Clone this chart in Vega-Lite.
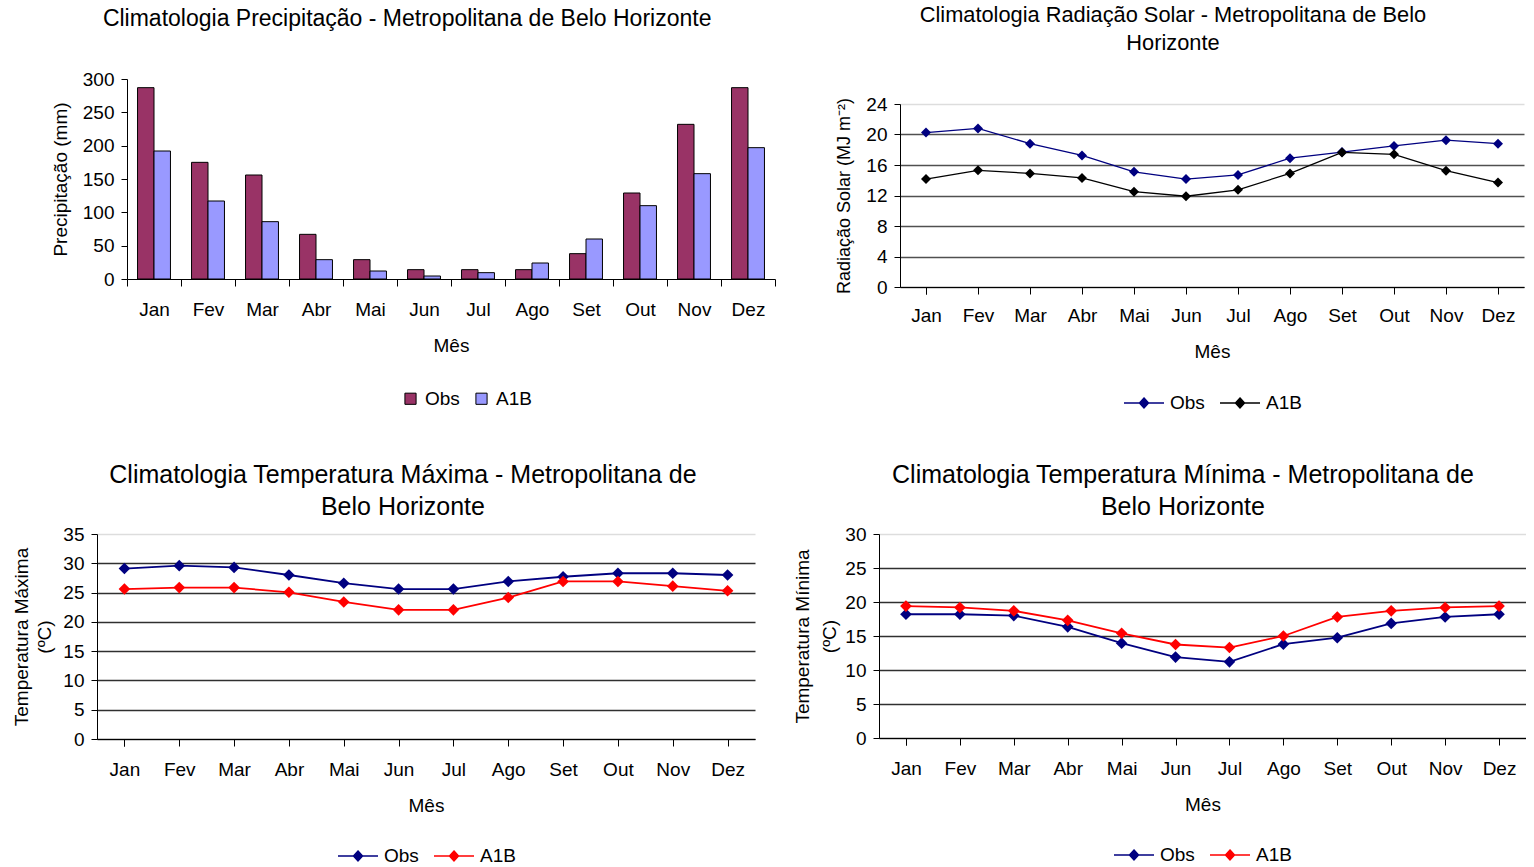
{
  "$schema": "https://vega.github.io/schema/vega-lite/v6.json",
  "background": "white",
  "padding": {"left": 12, "top": 5, "right": 0, "bottom": 0},
  "datasets": {
    "prec": [
      {"mes": "Jan", "serie": "Obs", "valor": 287}, {"mes": "Jan", "serie": "A1B", "valor": 192},
      {"mes": "Fev", "serie": "Obs", "valor": 175}, {"mes": "Fev", "serie": "A1B", "valor": 117},
      {"mes": "Mar", "serie": "Obs", "valor": 156}, {"mes": "Mar", "serie": "A1B", "valor": 86},
      {"mes": "Abr", "serie": "Obs", "valor": 67}, {"mes": "Abr", "serie": "A1B", "valor": 29},
      {"mes": "Mai", "serie": "Obs", "valor": 29}, {"mes": "Mai", "serie": "A1B", "valor": 12},
      {"mes": "Jun", "serie": "Obs", "valor": 14}, {"mes": "Jun", "serie": "A1B", "valor": 4.5},
      {"mes": "Jul", "serie": "Obs", "valor": 14}, {"mes": "Jul", "serie": "A1B", "valor": 9.5},
      {"mes": "Ago", "serie": "Obs", "valor": 14}, {"mes": "Ago", "serie": "A1B", "valor": 24},
      {"mes": "Set", "serie": "Obs", "valor": 38}, {"mes": "Set", "serie": "A1B", "valor": 60},
      {"mes": "Out", "serie": "Obs", "valor": 129}, {"mes": "Out", "serie": "A1B", "valor": 110},
      {"mes": "Nov", "serie": "Obs", "valor": 232}, {"mes": "Nov", "serie": "A1B", "valor": 158},
      {"mes": "Dez", "serie": "Obs", "valor": 287}, {"mes": "Dez", "serie": "A1B", "valor": 197}
    ],
    "rad": [
      {"mes": "Jan", "serie": "Obs", "valor": 20.25}, {"mes": "Jan", "serie": "A1B", "valor": 14.15},
      {"mes": "Fev", "serie": "Obs", "valor": 20.8}, {"mes": "Fev", "serie": "A1B", "valor": 15.3},
      {"mes": "Mar", "serie": "Obs", "valor": 18.8}, {"mes": "Mar", "serie": "A1B", "valor": 14.9},
      {"mes": "Abr", "serie": "Obs", "valor": 17.25}, {"mes": "Abr", "serie": "A1B", "valor": 14.3},
      {"mes": "Mai", "serie": "Obs", "valor": 15.1}, {"mes": "Mai", "serie": "A1B", "valor": 12.5},
      {"mes": "Jun", "serie": "Obs", "valor": 14.15}, {"mes": "Jun", "serie": "A1B", "valor": 11.9},
      {"mes": "Jul", "serie": "Obs", "valor": 14.7}, {"mes": "Jul", "serie": "A1B", "valor": 12.75},
      {"mes": "Ago", "serie": "Obs", "valor": 16.9}, {"mes": "Ago", "serie": "A1B", "valor": 14.9},
      {"mes": "Set", "serie": "Obs", "valor": 17.7}, {"mes": "Set", "serie": "A1B", "valor": 17.65},
      {"mes": "Out", "serie": "Obs", "valor": 18.5}, {"mes": "Out", "serie": "A1B", "valor": 17.4},
      {"mes": "Nov", "serie": "Obs", "valor": 19.25}, {"mes": "Nov", "serie": "A1B", "valor": 15.25},
      {"mes": "Dez", "serie": "Obs", "valor": 18.8}, {"mes": "Dez", "serie": "A1B", "valor": 13.7}
    ],
    "tmax": [
      {"mes": "Jan", "serie": "Obs", "valor": 29.1}, {"mes": "Jan", "serie": "A1B", "valor": 25.6},
      {"mes": "Fev", "serie": "Obs", "valor": 29.6}, {"mes": "Fev", "serie": "A1B", "valor": 25.85},
      {"mes": "Mar", "serie": "Obs", "valor": 29.3}, {"mes": "Mar", "serie": "A1B", "valor": 25.85},
      {"mes": "Abr", "serie": "Obs", "valor": 28.0}, {"mes": "Abr", "serie": "A1B", "valor": 25.05},
      {"mes": "Mai", "serie": "Obs", "valor": 26.6}, {"mes": "Mai", "serie": "A1B", "valor": 23.4},
      {"mes": "Jun", "serie": "Obs", "valor": 25.6}, {"mes": "Jun", "serie": "A1B", "valor": 22.05},
      {"mes": "Jul", "serie": "Obs", "valor": 25.6}, {"mes": "Jul", "serie": "A1B", "valor": 22.05},
      {"mes": "Ago", "serie": "Obs", "valor": 26.9}, {"mes": "Ago", "serie": "A1B", "valor": 24.15},
      {"mes": "Set", "serie": "Obs", "valor": 27.7}, {"mes": "Set", "serie": "A1B", "valor": 26.9},
      {"mes": "Out", "serie": "Obs", "valor": 28.3}, {"mes": "Out", "serie": "A1B", "valor": 26.9},
      {"mes": "Nov", "serie": "Obs", "valor": 28.3}, {"mes": "Nov", "serie": "A1B", "valor": 26.1},
      {"mes": "Dez", "serie": "Obs", "valor": 28.0}, {"mes": "Dez", "serie": "A1B", "valor": 25.3}
    ],
    "tmin": [
      {"mes": "Jan", "serie": "Obs", "valor": 18.2}, {"mes": "Jan", "serie": "A1B", "valor": 19.4},
      {"mes": "Fev", "serie": "Obs", "valor": 18.2}, {"mes": "Fev", "serie": "A1B", "valor": 19.2},
      {"mes": "Mar", "serie": "Obs", "valor": 18.0}, {"mes": "Mar", "serie": "A1B", "valor": 18.7},
      {"mes": "Abr", "serie": "Obs", "valor": 16.35}, {"mes": "Abr", "serie": "A1B", "valor": 17.3},
      {"mes": "Mai", "serie": "Obs", "valor": 13.95}, {"mes": "Mai", "serie": "A1B", "valor": 15.4},
      {"mes": "Jun", "serie": "Obs", "valor": 11.9}, {"mes": "Jun", "serie": "A1B", "valor": 13.75},
      {"mes": "Jul", "serie": "Obs", "valor": 11.2}, {"mes": "Jul", "serie": "A1B", "valor": 13.3},
      {"mes": "Ago", "serie": "Obs", "valor": 13.8}, {"mes": "Ago", "serie": "A1B", "valor": 15.0},
      {"mes": "Set", "serie": "Obs", "valor": 14.75}, {"mes": "Set", "serie": "A1B", "valor": 17.8},
      {"mes": "Out", "serie": "Obs", "valor": 16.85}, {"mes": "Out", "serie": "A1B", "valor": 18.7},
      {"mes": "Nov", "serie": "Obs", "valor": 17.8}, {"mes": "Nov", "serie": "A1B", "valor": 19.2},
      {"mes": "Dez", "serie": "Obs", "valor": 18.2}, {"mes": "Dez", "serie": "A1B", "valor": 19.4}
    ]
  },
  "spacing": 50,
  "align": "none",
  "resolve": {"scale": {"color": "independent"}, "legend": {"color": "independent"}},
  "vconcat": [
    {
      "spacing": 0,
      "align": "none",
      "resolve": {"scale": {"color": "independent"}, "legend": {"color": "independent"}},
      "hconcat": [
        {
          "data": {"name": "prec"},
          "width": 738,
          "height": 200,
          "title": {"text": "Climatologia Precipitação - Metropolitana de Belo Horizonte", "fontSize": 23, "frame": "bounds", "offset": 39, "dx": -36},
          "mark": {"type": "bar", "stroke": "black", "strokeWidth": 1},
          "encoding": {
            "x": {"field": "mes", "type": "nominal", "sort": ["Jan", "Fev", "Mar", "Abr", "Mai", "Jun", "Jul", "Ago", "Set", "Out", "Nov", "Dez"], "title": "Mês", "scale": {"paddingInner": 0, "paddingOuter": 0, "range": [30, 678]}, "axis": {"labelPadding": 14}},
            "xOffset": {"field": "serie", "type": "nominal", "sort": ["Obs", "A1B"], "scale": {"paddingInner": 0, "paddingOuter": 0.64}},
            "y": {"field": "valor", "type": "quantitative", "title": "Precipitação (mm)", "scale": {"domain": [0, 300], "nice": false}, "axis": {"values": [0, 50, 100, 150, 200, 250, 300], "grid": false, "titlePadding": 12, "offset": -30}},
            "color": {"field": "serie", "type": "nominal", "sort": ["Obs", "A1B"], "scale": {"domain": ["Obs", "A1B"], "range": ["#993366", "#9999FF"]}, "legend": {"title": null, "orient": "bottom", "direction": "horizontal", "offset": 34, "symbolType": "square", "symbolSize": 125, "symbolStrokeColor": "black", "symbolStrokeWidth": 1, "symbolOpacity": 1, "symbolFillColor": null}}
          }
        },
        {
          "data": {"name": "rad"},
          "width": 624,
          "height": 208,
          "title": {"text": ["Climatologia Radiação Solar - Metropolitana de Belo", "Horizonte"], "fontSize": 21.8, "lineHeight": 28, "frame": "bounds", "offset": 24, "dx": -7},
          "mark": {"type": "line", "strokeWidth": 1.3, "point": {"shape": "diamond", "filled": true, "size": 100}},
          "encoding": {
            "x": {"field": "mes", "type": "nominal", "sort": ["Jan", "Fev", "Mar", "Abr", "Mai", "Jun", "Jul", "Ago", "Set", "Out", "Nov", "Dez"], "title": "Mês", "scale": {"paddingInner": 0, "paddingOuter": 0}},
            "y": {"field": "valor", "type": "quantitative", "title": "Radiação Solar (MJ m⁻²)", "scale": {"domain": [0, 24], "nice": false, "range": [208, 25]}, "axis": {"values": [0, 4, 8, 12, 16, 20, 24], "titleFontSize": 18, "titlePadding": 12, "gridColor": {"condition": {"test": "datum.value == 24", "value": "#dddddd"}, "value": "#505050"}}},
            "color": {"field": "serie", "type": "nominal", "sort": ["Obs", "A1B"], "scale": {"domain": ["Obs", "A1B"], "range": ["#000080", "#000000"]}, "legend": {"title": null, "orient": "bottom", "direction": "horizontal", "offset": 21, "encode": {"symbols": {"update": {"fill": {"signal": "datum.value === 'Obs' ? '#000080' : '#000000'"}}}}}}
          }
        }
      ]
    },
    {
      "spacing": 38,
      "align": "none",
      "resolve": {"scale": {"color": "independent"}, "legend": {"color": "independent"}},
      "hconcat": [
        {
          "data": {"name": "tmax"},
          "width": 658,
          "height": 205,
          "title": {"text": ["Climatologia Temperatura Máxima - Metropolitana de", "Belo Horizonte"], "fontSize": 25, "lineHeight": 32, "frame": "bounds", "offset": 5, "dx": 19},
          "mark": {"type": "line", "strokeWidth": 1.8, "point": {"shape": "diamond", "filled": true, "size": 135}},
          "encoding": {
            "x": {"field": "mes", "type": "nominal", "sort": ["Jan", "Fev", "Mar", "Abr", "Mai", "Jun", "Jul", "Ago", "Set", "Out", "Nov", "Dez"], "title": "Mês", "scale": {"paddingInner": 0, "paddingOuter": 0}, "axis": {"labelPadding": 14}},
            "y": {"field": "valor", "type": "quantitative", "title": ["Temperatura Máxima", "(ºC)"], "scale": {"domain": [0, 35], "nice": false}, "axis": {"values": [0, 5, 10, 15, 20, 25, 30, 35], "titlePadding": 8, "titleLineHeight": 23, "gridColor": {"condition": {"test": "datum.value == 35", "value": "#dddddd"}, "value": "#303030"}}},
            "color": {"field": "serie", "type": "nominal", "sort": ["Obs", "A1B"], "scale": {"domain": ["Obs", "A1B"], "range": ["#000080", "#FF0000"]}, "legend": {"title": null, "orient": "bottom", "direction": "horizontal", "offset": 20, "encode": {"symbols": {"update": {"fill": {"signal": "datum.value === 'Obs' ? '#000080' : '#FF0000'"}}}}}}
          }
        },
        {
          "data": {"name": "tmin"},
          "width": 647,
          "height": 204,
          "title": {"text": ["Climatologia Temperatura Mínima - Metropolitana de", "Belo Horizonte"], "fontSize": 25, "lineHeight": 32, "frame": "bounds", "offset": 5, "dx": 23},
          "mark": {"type": "line", "strokeWidth": 1.8, "point": {"shape": "diamond", "filled": true, "size": 135}},
          "encoding": {
            "x": {"field": "mes", "type": "nominal", "sort": ["Jan", "Fev", "Mar", "Abr", "Mai", "Jun", "Jul", "Ago", "Set", "Out", "Nov", "Dez"], "title": "Mês", "scale": {"paddingInner": 0, "paddingOuter": 0}, "axis": {"labelPadding": 14}},
            "y": {"field": "valor", "type": "quantitative", "title": ["Temperatura Mínima", "(ºC)"], "scale": {"domain": [0, 30], "nice": false}, "axis": {"values": [0, 5, 10, 15, 20, 25, 30], "titlePadding": 5, "titleLineHeight": 27, "gridColor": {"condition": {"test": "datum.value == 30", "value": "#dddddd"}, "value": "#303030"}}},
            "color": {"field": "serie", "type": "nominal", "sort": ["Obs", "A1B"], "scale": {"domain": ["Obs", "A1B"], "range": ["#000080", "#FF0000"]}, "legend": {"title": null, "orient": "bottom", "direction": "horizontal", "offset": 20, "encode": {"symbols": {"update": {"fill": {"signal": "datum.value === 'Obs' ? '#000080' : '#FF0000'"}}}}}}
          }
        }
      ]
    }
  ],
  "config": {
    "font": "Liberation Sans",
    "view": {"stroke": null},
    "title": {"color": "black", "fontWeight": "normal", "anchor": "middle", "font": "Liberation Sans"},
    "axis": {"domainColor": "black", "tickColor": "black", "labelColor": "black", "titleColor": "black", "labelFontSize": 19, "titleFontSize": 19, "titleFontWeight": "normal", "labelFont": "Liberation Sans", "titleFont": "Liberation Sans", "domainWidth": 1, "tickWidth": 1},
    "axisX": {"tickBand": "extent", "tickSize": 7, "labelPadding": 12, "labelAngle": 0, "titlePadding": 17, "grid": false},
    "axisY": {"tickSize": 6, "labelPadding": 7, "titlePadding": 8, "grid": true, "gridWidth": 1.3},
    "legend": {"labelFontSize": 19, "labelColor": "black", "labelFont": "Liberation Sans", "symbolType": "M-1,0L1,0M0,-0.25L0.225,0L0,0.25L-0.225,0Z", "symbolSize": 1600, "symbolStrokeWidth": 1.5, "labelOffset": 5, "columnPadding": 12, "offset": 36, "layout": {"bottom": {"anchor": "middle"}}}
  }
}
